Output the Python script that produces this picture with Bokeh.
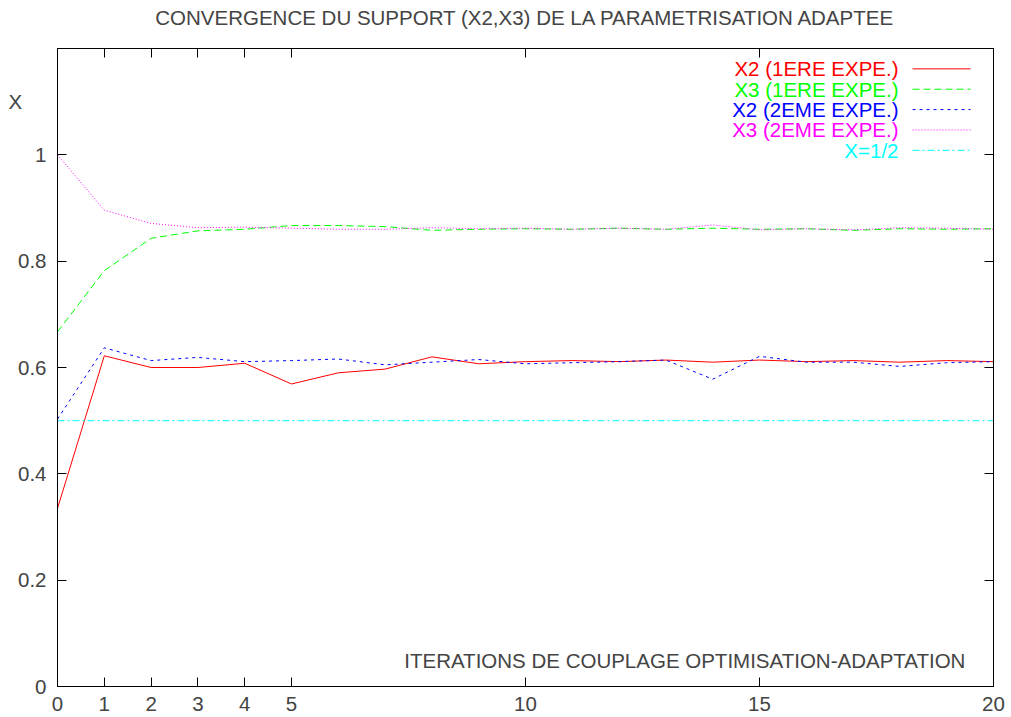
from bokeh.plotting import figure
from bokeh.models import (LinearAxis, FixedTicker, CustomJSTickFormatter, Range1d, Label)
from bokeh.embed import file_html
from bokeh.resources import INLINE

iterations = list(range(21))
x2_exp1 = [0.335, 0.622, 0.600, 0.600, 0.608, 0.569, 0.590, 0.597, 0.620, 0.607, 0.611,
           0.613, 0.611, 0.614, 0.610, 0.614, 0.611, 0.613, 0.610, 0.613, 0.611]
x3_exp1 = [0.667, 0.782, 0.843, 0.857, 0.860, 0.867, 0.867, 0.865, 0.858, 0.860, 0.861,
           0.860, 0.862, 0.860, 0.862, 0.860, 0.861, 0.858, 0.861, 0.860, 0.861]
x2_exp2 = [0.503, 0.637, 0.613, 0.619, 0.611, 0.613, 0.616, 0.605, 0.610, 0.615, 0.607,
           0.609, 0.611, 0.614, 0.578, 0.621, 0.610, 0.610, 0.602, 0.609, 0.611]
x3_exp2 = [1.000, 0.896, 0.871, 0.863, 0.864, 0.862, 0.860, 0.860, 0.863, 0.861, 0.862,
           0.860, 0.862, 0.860, 0.868, 0.859, 0.861, 0.859, 0.863, 0.862, 0.860]
half = [0.5] * 21

title_text = "CONVERGENCE DU SUPPORT (X2,X3) DE LA PARAMETRISATION ADAPTEE"
xlabel_text = "ITERATIONS DE COUPLAGE OPTIMISATION-ADAPTATION"
ylabel_text = "X"
series_names = ["X2 (1ERE EXPE.)", "X3 (1ERE EXPE.)", "X2 (2EME EXPE.)", "X3 (2EME EXPE.)", "X=1/2"]
series_colors = ["#ff0000", "#00ff00", "#0000ff", "#ff00ff", "#00ffff"]
series_dashes = ["solid", "7 4", "3 4", "1 2", "7 3 2 3"]
x_ticks = [0, 1, 2, 3, 4, 5, 10, 15, 20]
y_ticks = [0, 0.2, 0.4, 0.6, 0.8, 1.0]

FONT = "Liberation Sans"
FS = "20.5px"

p = figure(width=1008, height=716, output_backend="svg", toolbar_location=None,
           x_range=Range1d(0, 20), y_range=Range1d(0, 1.2),
           min_border_left=57, min_border_right=15, min_border_top=48, min_border_bottom=30,
           x_axis_location=None, y_axis_location=None)
p.background_fill_color = "white"
p.border_fill_color = "white"
p.grid.visible = False
p.outline_line_color = "black"
p.outline_line_width = 1

yfmt = CustomJSTickFormatter(code="return (Math.abs(tick) < 1e-9) ? '0' : (Math.abs(tick-1) < 1e-9 ? '1' : tick.toFixed(1));")
xfmt = CustomJSTickFormatter(code="return tick.toFixed(0);")
blank = CustomJSTickFormatter(code="return '';")

def style(ax, labels=True):
    ax.axis_line_color = "black"
    ax.major_tick_line_color = "black"
    ax.major_tick_in = 9
    ax.major_tick_out = 0
    ax.minor_tick_line_color = None
    ax.major_label_text_font = FONT
    ax.major_label_text_font_size = FS
    if not labels:
        ax.major_label_text_color = None
        ax.major_label_standoff = 0

xb = LinearAxis(ticker=FixedTicker(ticks=x_ticks), formatter=xfmt)
style(xb); xb.major_label_standoff = 10
xt = LinearAxis(ticker=FixedTicker(ticks=x_ticks), formatter=blank)
style(xt, False)
yl = LinearAxis(ticker=FixedTicker(ticks=y_ticks), formatter=yfmt)
style(yl); yl.major_label_standoff = 11
yr = LinearAxis(ticker=FixedTicker(ticks=y_ticks), formatter=blank)
style(yr, False)
p.add_layout(xb, "below")
p.add_layout(xt, "above")
p.add_layout(yl, "left")
p.add_layout(yr, "right")

all_series = [x2_exp1, x3_exp1, x2_exp2, x3_exp2, half]
for ys, c, d in zip(all_series, series_colors, series_dashes):
    p.line(iterations, ys, line_color=c, line_width=1, line_dash=d)

# Legend (gnuplot style: label right-aligned, sample to the right)
leg_text_x = 17.97
leg_x0, leg_x1 = 18.27, 19.51
leg_y0, leg_dy = 1.1617, 0.0383
for i, (name, c, d) in enumerate(zip(series_names, series_colors, series_dashes)):
    yy = leg_y0 - i * leg_dy
    p.add_layout(Label(x=leg_text_x, y=yy, text=name, text_color=c, text_font=FONT,
                       text_font_size=FS, text_align="right", text_baseline="middle"))
    p.line([leg_x0, leg_x1], [yy, yy], line_color=c, line_width=1, line_dash=d)

p.add_layout(Label(x=10, y=1.2575, text=title_text, text_font=FONT, text_font_size=FS,
                   text_align="center", text_baseline="middle"), "above")
p.add_layout(Label(x=-0.9, y=1.1, text=ylabel_text, text_font=FONT, text_font_size=FS,
                   text_align="center", text_baseline="middle"), "left")
p.add_layout(Label(x=19.4, y=0.049, text=xlabel_text,
                   text_font=FONT, text_font_size=FS, text_align="right", text_baseline="middle"))

open("out.html", "w").write(file_html(p, INLINE))
